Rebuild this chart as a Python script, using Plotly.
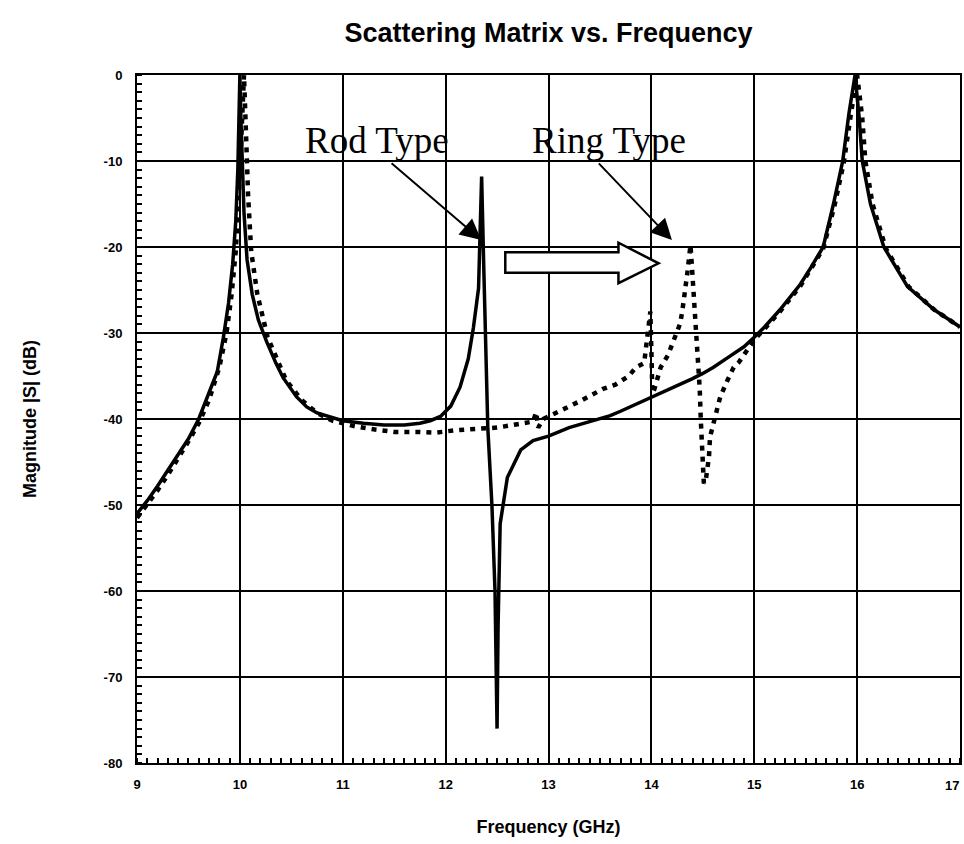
import plotly.graph_objects as go

# ---------------- data ----------------
rod_freq = [9.00, 9.10, 9.20, 9.30, 9.40, 9.50, 9.60, 9.70, 9.78, 9.84, 9.89, 9.93, 9.96, 9.98, 9.99, 10.00,
            10.01, 10.02, 10.04, 10.07, 10.12, 10.18, 10.26, 10.35, 10.42, 10.55, 10.65, 10.75, 10.90, 11.00,
            11.20, 11.40, 11.60, 11.75, 11.85, 11.95, 12.05, 12.14, 12.22, 12.27, 12.32, 12.34, 12.35, 12.37,
            12.39, 12.41, 12.45, 12.48, 12.50, 12.51, 12.53, 12.60, 12.73, 12.85, 13.00, 13.20, 13.40, 13.60,
            13.70, 13.85, 14.00, 14.20, 14.40, 14.50, 14.60, 14.75, 14.90, 15.00, 15.10, 15.25, 15.35, 15.45,
            15.55, 15.67, 15.77, 15.86, 15.92, 15.98, 16.02, 16.05, 16.13, 16.26, 16.49, 16.75, 17.00]
rod_db = [-51.0, -49.5, -47.8, -46.0, -44.2, -42.3, -40.0, -37.0, -34.5, -30.5, -26.5, -22.0, -17.0, -11.0, -6.0, 0.0,
          -5.0, -10.0, -16.0, -21.5, -25.5, -28.5, -31.0, -33.5, -35.2, -37.4, -38.6, -39.3, -39.9, -40.2,
          -40.5, -40.7, -40.7, -40.5, -40.2, -39.7, -38.5, -36.3, -33.0, -29.4, -24.8, -18.0, -11.8, -22.0,
          -32.0, -41.0, -50.0, -60.0, -76.0, -64.0, -52.2, -46.8, -43.6, -42.5, -42.0, -41.0, -40.3, -39.6,
          -39.1, -38.3, -37.5, -36.4, -35.3, -34.7, -34.0, -32.8, -31.6, -30.5, -29.3, -27.3, -25.8, -24.3,
          -22.4, -20.0, -15.0, -10.0, -4.5, 0.0, -5.0, -10.0, -15.0, -20.0, -24.6, -27.3, -29.3]

ring_freq = [9.00, 9.10, 9.20, 9.30, 9.40, 9.50, 9.60, 9.70, 9.80, 9.87, 9.92, 9.96, 9.99, 10.02, 10.04,
             10.06, 10.08, 10.11, 10.17, 10.27, 10.35, 10.45, 10.60, 10.75, 10.90, 11.10, 11.30, 11.50, 11.72,
             11.90, 12.10, 12.30, 12.50, 12.70, 12.85, 12.88, 12.90, 12.95, 13.05, 13.14, 13.31, 13.53, 13.65,
             13.78, 13.85, 13.93, 13.97, 13.99, 14.00, 14.01, 14.03, 14.09, 14.16, 14.20, 14.24, 14.28, 14.30,
             14.31, 14.33, 14.35, 14.36, 14.38, 14.39, 14.41, 14.43, 14.45, 14.47, 14.48, 14.49, 14.50, 14.51,
             14.53, 14.56, 14.57, 14.62, 14.67, 14.74, 14.80, 14.85, 14.90, 15.00, 15.10, 15.25, 15.45, 15.67,
             15.78, 15.87, 15.94, 16.00, 16.05, 16.08, 16.15, 16.28, 16.50, 16.75, 17.00]
ring_db = [-51.5, -50.0, -48.3, -46.5, -44.6, -42.6, -40.5, -37.8, -34.0, -30.0, -25.5, -20.5, -14.0, -7.0, 0.0,
           -7.0, -14.0, -20.5, -25.5, -30.5, -32.8, -35.5, -37.8, -39.3, -40.2, -40.8, -41.2, -41.5, -41.5,
           -41.6, -41.3, -41.2, -41.0, -40.6, -40.3, -39.2, -41.0, -40.0, -39.4, -39.0, -37.9, -36.5, -36.0,
           -35.0, -34.0, -33.5, -30.0, -27.5, -32.0, -37.0, -36.5, -34.0, -32.6, -31.4, -30.3, -28.9, -27.5,
           -26.2, -24.8, -23.0, -21.7, -19.8, -21.5, -25.0, -28.1, -33.1, -36.5, -40.0, -43.0, -45.1, -47.5,
           -47.0, -44.4, -42.1, -39.8, -37.4, -35.5, -34.0, -33.4, -32.5, -30.8, -29.5, -27.5, -24.5, -20.2,
           -15.2, -10.2, -4.5, 0.0, -5.0, -10.0, -15.0, -20.2, -24.6, -27.3, -29.3]

x_tick_vals = [9, 10, 11, 12, 13, 14, 15, 16, 17]
x_tick_text = ["9", "10", "11", "12", "13", "14", "15", "16", "17"]
y_tick_vals = [0, -10, -20, -30, -40, -50, -60, -70, -80]
y_tick_text = ["0", "-10", "-20", "-30", "-40", "-50", "-60", "-70", "-80"]

title_text = "Scattering Matrix vs. Frequency"
x_title = "Frequency (GHz)"
y_title = "Magnitude |S| (dB)"

# ---------------- figure ----------------
SANS = "Liberation Sans, Arial, sans-serif"
SERIF = "Liberation Serif, Times New Roman, serif"
TICKFONT = dict(family=SANS, size=13, color="black", weight="bold")

fig = go.Figure()
fig.add_trace(go.Scatter(x=ring_freq, y=ring_db, mode="lines", name="Ring Type",
                         line=dict(color="black", width=4.5, dash="5px,6px"), showlegend=False))
fig.add_trace(go.Scatter(x=rod_freq, y=rod_db, mode="lines", name="Rod Type",
                         line=dict(color="black", width=3.5), showlegend=False))

axis_common = dict(showline=True, linecolor="black", linewidth=2, mirror=True, automargin=False,
                   showgrid=True, gridcolor="black", gridwidth=1.5, zeroline=False,
                   ticks="", tickfont=TICKFONT)

# the last x label sits at the right edge of the page: it is drawn right-aligned below
fig.update_xaxes(range=[9, 17], tickmode="array", tickvals=x_tick_vals, ticktext=x_tick_text[:-1] + [""],
                 minor=dict(ticks="inside", ticklen=5, tickwidth=1.5, tickcolor="black", dtick=0.1,
                            showgrid=False),
                 ticklabelstandoff=8,
                 title=dict(text=x_title, font=dict(family=SANS, size=18, color="black", weight="bold"),
                            standoff=30),
                 **axis_common)
fig.update_yaxes(range=[-80, 0], tickmode="array", tickvals=y_tick_vals, ticktext=y_tick_text,
                 minor=dict(ticks="inside", ticklen=5, tickwidth=1.5, tickcolor="black", dtick=1,
                            showgrid=False),
                 ticklabelstandoff=10,
                 title=dict(text=y_title, font=dict(family=SANS, size=18, color="black", weight="bold"),
                            standoff=62),
                 **axis_common)

fig.add_annotation(x=x_tick_vals[-1], y=0, xref="x", yref="paper", text=x_tick_text[-1],
                   showarrow=False, xanchor="right", yanchor="top", xshift=1, yshift=-13,
                   font=TICKFONT)

# text labels
fig.add_annotation(x=11.335, y=-7.6, xref="x", yref="y", text="Rod Type", showarrow=False,
                   font=dict(family=SERIF, size=37, color="black"))
fig.add_annotation(x=13.59, y=-7.6, xref="x", yref="y", text="Ring Type", showarrow=False,
                   font=dict(family=SERIF, size=37, color="black"))
# pointer arrows
fig.add_annotation(x=12.346, y=-19.2, ax=11.46, ay=-10.1, xref="x", yref="y", axref="x", ayref="y",
                   text="", showarrow=True, arrowhead=2, arrowsize=2.1, arrowwidth=2, arrowcolor="black")
fig.add_annotation(x=14.20, y=-19.2, ax=13.475, ay=-10.1, xref="x", yref="y", axref="x", ayref="y",
                   text="", showarrow=True, arrowhead=2, arrowsize=2.1, arrowwidth=2, arrowcolor="black")

# hollow shift arrow
fig.add_shape(type="path", xref="x", yref="y", layer="above",
              path="M 12.58,-20.6 L 13.68,-20.6 L 13.68,-19.5 L 14.07,-21.9 L 13.68,-24.2 "
                   "L 13.68,-23.0 L 12.58,-23.0 Z",
              fillcolor="white", line=dict(color="black", width=2.5))

fig.update_layout(
    width=964, height=844,
    margin=dict(l=137, r=4, t=75, b=81),
    paper_bgcolor="white", plot_bgcolor="white",
    title=dict(text=title_text, x=0.569, xanchor="center", y=0.962, yanchor="middle",
               font=dict(family=SANS, size=27, color="black", weight="bold")),
    showlegend=False,
)

fig.write_html("out.html", config={"displayModeBar": False},
               post_script="document.body.style.margin='0';document.body.style.overflow='hidden';")
